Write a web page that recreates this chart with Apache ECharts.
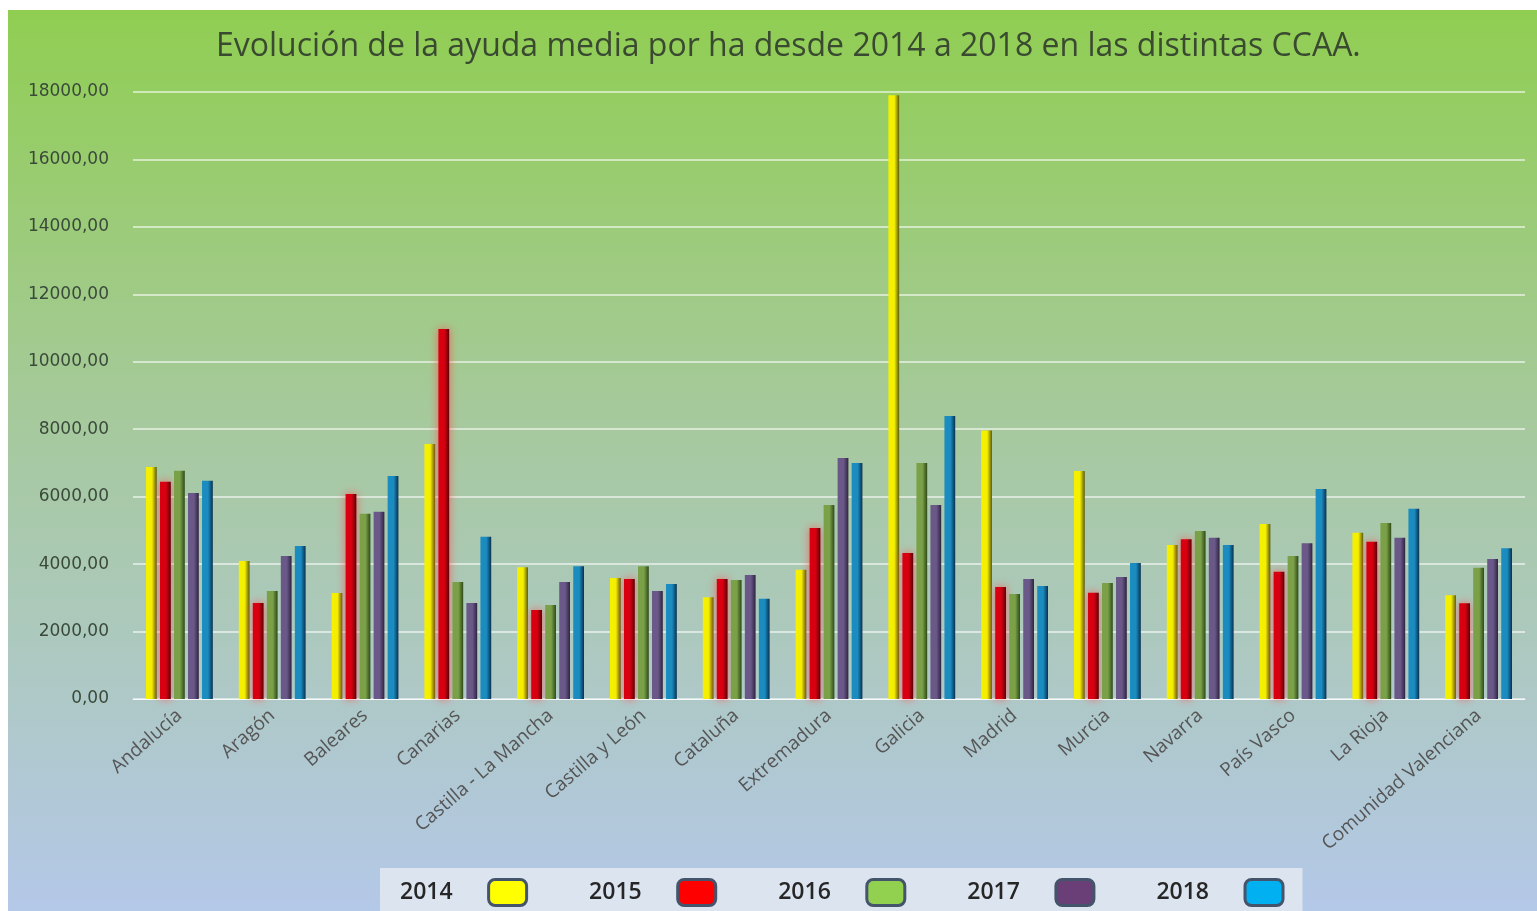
<!DOCTYPE html>
<html>
<head>
<meta charset="utf-8">
<script src="https://cdn.jsdelivr.net/npm/echarts@6/dist/echarts.min.js"></script>
<style>
  html, body { margin: 0; padding: 0; background: #fff; }
  #chart { position: absolute; left: 8px; top: 10px; width: 1529px; height: 901px; }
</style>
</head>
<body>
<div id="chart"></div>
<script>
// comunidades autónomas
const categories = ['Andalucía', 'Aragón', 'Baleares', 'Canarias', 'Castilla - La Mancha', 'Castilla y León',
  'Cataluña', 'Extremadura', 'Galicia', 'Madrid', 'Murcia', 'Navarra', 'País Vasco', 'La Rioja', 'Comunidad Valenciana']

// ayuda media por ha (€)
const y2014 = [6880, 4090, 3140, 7560, 3910, 3590, 3020, 3830, 17900, 7960, 6760, 4570, 5190, 4930, 3080]
const y2015 = [6440, 2850, 6080, 10970, 2640, 3560, 3560, 5070, 4330, 3320, 3150, 4740, 3770, 4660, 2840]
const y2016 = [6770, 3200, 5490, 3470, 2790, 3940, 3530, 5750, 7000, 3110, 3440, 4980, 4240, 5220, 3890]
const y2017 = [6110, 4240, 5550, 2850, 3470, 3200, 3680, 7150, 5750, 3560, 3620, 4780, 4620, 4780, 4150]
const y2018 = [6470, 4540, 6610, 4810, 3940, 3410, 2970, 7000, 8390, 3350, 4030, 4570, 6230, 5640, 4470]

const years = ['2014', '2015', '2016', '2017', '2018']
const seriesData = [y2014, y2015, y2016, y2017, y2018]

// colores: [claro, oscuro, leyenda]
const palette = [
  ['#f4f000', '#5a5a10', '#ffff00'],
  ['#d80010', '#5a0008', '#ff0000'],
  ['#7aa048', '#2e4a18', '#92d050'],
  ['#6a5888', '#2e2440', '#6a3f78'],
  ['#1a8cc0', '#0a3050', '#00b0f0']
]

const chart = echarts.init(document.getElementById('chart'))

const barColor = (c) => ({
  type: 'linear', x: 0, y: 0, x2: 1, y2: 0,
  colorStops: [
    { offset: 0, color: c[0] },
    { offset: 0.55, color: c[0] },
    { offset: 1, color: c[1] }
  ]
})

const series = years.map((y, i) => ({
  name: y,
  type: 'bar',
  data: seriesData[i],
  barGap: '30%',
  barCategoryGap: '28%',
  itemStyle: Object.assign({
    color: barColor(palette[i])
  }, i === 1 ? { shadowColor: 'rgba(255,70,70,0.75)', shadowBlur: 10 } : {})
}))

chart.setOption({
  backgroundColor: {
    type: 'linear', x: 0, y: 0, x2: 0, y2: 1,
    colorStops: [
      { offset: 0, color: '#90ce52' },
      { offset: 0.45, color: '#a6c99c' },
      { offset: 1, color: '#b4c8e8' }
    ]
  },
  color: palette.map(p => p[2]),
  title: {
    text: 'Evolución de la ayuda media por ha desde 2014 a 2018 en las distintas CCAA.',
    left: 203,
    top: 16,
    textStyle: {
      fontFamily: 'Open Sans',
      fontSize: 32,
      fontWeight: 'normal',
      color: '#3a4a30'
    }
  },
  legend: {
    data: years.map((y, i) => ({ name: y, itemStyle: { color: palette[i][2] } })),
    bottom: -6,
    left: 372,
    align: 'right',
    icon: 'roundRect',
    itemWidth: 38,
    itemHeight: 26,
    itemGap: 61,
    padding: [10, 18, 10, 20],
    backgroundColor: '#dce4f0',
    itemStyle: { borderColor: '#44546a', borderWidth: 3 },
    textStyle: {
      fontFamily: 'Open Sans',
      fontSize: 23,
      fontWeight: 600,
      color: '#262626',
      padding: [0, 31, 0, 0]
    }
  },
  grid: { left: 125, right: 12, top: 82, bottom: 212 },
  xAxis: {
    type: 'category',
    data: categories,
    axisLine: { show: true, lineStyle: { color: 'rgba(255,255,255,0.7)' } },
    axisTick: { show: false },
    axisLabel: {
      interval: 0,
      rotate: 41,
      margin: 14,
      fontFamily: 'Open Sans',
      fontSize: 19,
      color: '#555555'
    }
  },
  yAxis: {
    type: 'value',
    min: 0,
    max: 18000,
    interval: 2000,
    axisLine: { show: false },
    axisTick: { show: false },
    splitLine: { lineStyle: { color: 'rgba(255,255,255,0.75)', width: 1.5 } },
    axisLabel: {
      margin: 24,
      fontFamily: 'DejaVu Sans',
      fontSize: 17,
      color: '#3a4a3a',
      formatter: v => v.toFixed(2).replace('.', ',')
    }
  },
  series: series
})
</script>
</body>
</html>
